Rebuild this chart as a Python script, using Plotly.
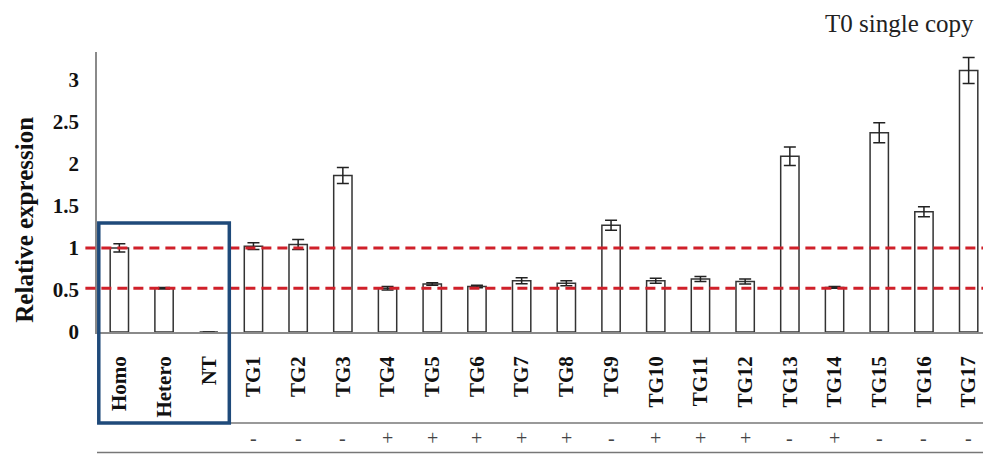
import plotly.graph_objects as go

categories = ["Homo", "Hetero", "NT", "TG1", "TG2", "TG3", "TG4", "TG5", "TG6", "TG7",
              "TG8", "TG9", "TG10", "TG11", "TG12", "TG13", "TG14", "TG15", "TG16", "TG17"]
values = [1.00, 0.52, 0.0, 1.02, 1.04, 1.86, 0.52, 0.57, 0.54, 0.61,
          0.58, 1.27, 0.61, 0.63, 0.60, 2.09, 0.53, 2.37, 1.43, 3.11]
errors = [0.05, 0.01, 0.0, 0.04, 0.06, 0.095, 0.02, 0.015, 0.015, 0.035,
          0.03, 0.06, 0.03, 0.03, 0.03, 0.11, 0.01, 0.12, 0.06, 0.155]
signs = ["", "", "", "-", "-", "-", "+", "+", "+", "+",
         "+", "-", "+", "+", "+", "-", "+", "-", "-", "-"]
ref_lines = [1.0, 0.52]
y_ticks = [0, 0.5, 1, 1.5, 2, 2.5, 3]
y_ticktext = ["0", "0.5", "1", "1.5", "2", "2.5", "3"]

SERIF = "Liberation Serif"
xs = list(range(len(categories)))

fig = go.Figure()
fig.add_trace(go.Bar(
    x=xs, y=values, width=0.41,
    marker=dict(color="white", line=dict(color="#333333", width=1.5)),
    error_y=dict(type="data", array=errors, visible=True, color="#222222",
                 thickness=1.5, width=6),
    showlegend=False,
))

# page body has an 8px margin: figure is sized so it ends at the window edge
fig.update_layout(
    width=983, height=446,
    margin=dict(l=89, r=0, t=44, b=122),
    plot_bgcolor="white", paper_bgcolor="white",
    xaxis=dict(
        range=[-0.5, len(categories) - 0.5],
        tickmode="array", tickvals=xs, ticktext=categories,
        tickangle=-90, ticks="outside", ticklen=14, tickcolor="rgba(0,0,0,0)",
        tickfont=dict(family=SERIF, size=21, color="#111111", weight="bold"),
        showline=True, linecolor="#8a8a8a", linewidth=1.5,
        showgrid=False, zeroline=False, fixedrange=True,
    ),
    yaxis=dict(
        range=[0, 3.33],
        tickmode="array", tickvals=y_ticks, ticktext=y_ticktext,
        ticks="outside", ticklen=12, tickcolor="rgba(0,0,0,0)",
        tickfont=dict(family=SERIF, size=21, color="#111111", weight="bold"),
        showline=True, linecolor="#8a8a8a", linewidth=1.5,
        showgrid=False, zeroline=False, fixedrange=True,
    ),
)

shapes = []
for v in ref_lines:
    shapes.append(dict(type="line", xref="paper", yref="y", x0=-0.013, x1=1, y0=v, y1=v,
                       line=dict(color="#d0202a", width=3, dash="10px,6px"), layer="above"))
# lines framing the +/- row
for yp in [-0.325, -0.43]:
    shapes.append(dict(type="line", xref="paper", yref="paper", x0=0, x1=1, y0=yp, y1=yp,
                       line=dict(color="#777777", width=1.5)))
# blue box around controls
shapes.append(dict(type="rect", xref="paper", yref="paper", x0=0.002, x1=0.148,
                   y0=-0.325, y1=0.389, line=dict(color="#1f4a7a", width=3.5)))
fig.update_layout(shapes=shapes)

for x, s in zip(xs, signs):
    if s:
        fig.add_annotation(x=x, xref="x", y=-0.379, yref="paper", text=s, showarrow=False,
                           font=dict(family=SERIF, size=20, color="#444444"),
                           xanchor="center", yanchor="middle")

fig.add_annotation(x=0.982, xref="paper", y=1.155, yref="paper", text="T0 single copy",
                   showarrow=False, xanchor="right", yanchor="top", borderpad=0,
                   font=dict(family=SERIF, size=25, color="#222222"))
fig.add_annotation(x=-0.082, xref="paper", y=0.40, yref="paper", text="<b>Relative expression</b>",
                   showarrow=False, textangle=-90, xanchor="center", yanchor="middle",
                   font=dict(family=SERIF, size=25, color="#111111"))

fig.write_html("out.html")
